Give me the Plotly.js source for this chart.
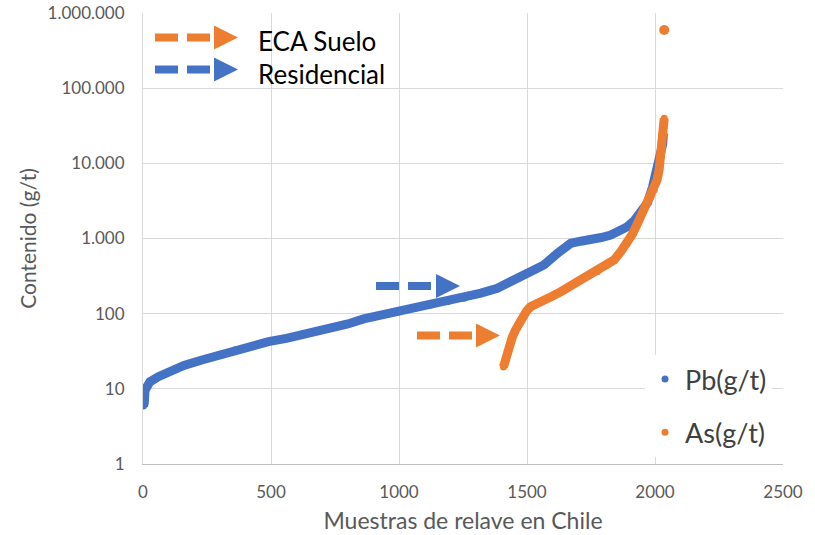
<!DOCTYPE html>
<html>
<head>
<meta charset="utf-8">
<script src="https://cdn.plot.ly/plotly-3.0.1.min.js"></script>
<style>html,body{margin:0;padding:0;background:#fff;}#chart{width:815px;height:535px;}</style>
</head>
<body>
<div id="chart"></div>
<script>
// Pb(g/t) sorted sample values
const pbX = [2, 5, 8, 15, 27, 60, 99, 160, 230, 300, 360, 430, 490, 560, 621, 680, 735, 800, 862, 930, 1000, 1060, 1123, 1190, 1253, 1320, 1384, 1436, 1501, 1566, 1619, 1671, 1710, 1749, 1790, 1827, 1860, 1892, 1920, 1944, 1971, 1990, 2005, 2015, 2023, 2030, 2033];
const pbY = [5.9, 6.5, 9.6, 11, 12.4, 14.5, 16.9, 20.5, 24.2, 28.5, 32.9, 37.5, 42.4, 47, 52, 58, 65, 73, 85, 95, 106, 117, 130, 145, 160, 188, 218, 266, 345, 444, 635, 863, 920, 955, 1030, 1112, 1250, 1436, 1750, 2164, 3000, 4800, 7500, 10000, 12100, 18000, 25000];
// As(g/t) sorted sample values
const asX = [1408, 1412, 1420, 1429, 1442, 1455, 1468, 1482, 1498, 1514, 1540, 1566, 1600, 1632, 1665, 1697, 1735, 1775, 1808, 1840, 1868, 1892, 1912, 1932, 1952, 1971, 1985, 1997, 2008, 2016, 2023, 2029, 2033, 2036];
const asY = [19.5, 22, 28, 36.4, 48, 60.6, 75, 91, 108, 124, 140, 152, 172, 196, 230, 266, 310, 362, 430, 518, 680, 863, 1150, 1592, 2200, 2900, 3600, 4420, 6000, 8150, 12000, 18500, 27000, 39700];
// As outlier
const asOutX = [2036];
const asOutY = [594000];

const yTickVals = [1, 10, 100, 1000, 10000, 100000, 1000000];
const yTickText = ['1', '10', '100', '1.000', '10.000', '100.000', '1.000.000'];
const xTickVals = [0, 500, 1000, 1500, 2000, 2500];

const BLUE = '#4472C4', ORANGE = '#ED7D31';
const FONT = 'Lato, "Open Sans", sans-serif';
const W = 815, H = 535, L = 143, R = 32, T = 13, B = 71;
const pw = W - L - R, ph = H - T - B;
const px = v => (v - L) / pw;
const py = v => (H - B - v) / ph;

const traces = [
  {x: pbX, y: pbY, mode: 'lines', line: {color: BLUE, width: 9}, showlegend: false, legendgroup: 'pb', hoverinfo: 'skip'},
  {x: pbX, y: pbY, mode: 'markers', marker: {color: BLUE, size: 7}, name: 'Pb(g/t)', legendgroup: 'pb'},
  {x: asX, y: asY, mode: 'lines', line: {color: ORANGE, width: 9}, showlegend: false, legendgroup: 'as', hoverinfo: 'skip'},
  {x: asX, y: asY, mode: 'markers', marker: {color: ORANGE, size: 7}, name: 'As(g/t)', legendgroup: 'as'},
  {x: asOutX, y: asOutY, mode: 'markers', marker: {color: ORANGE, size: 10}, showlegend: false, legendgroup: 'as'}
];

function arrow(color, x0, x1, yc, tx0, tx1, th) {
  return [
    {type: 'line', xref: 'paper', yref: 'paper', x0: px(x0), x1: px(x1), y0: py(yc), y1: py(yc),
     line: {color: color, width: 8, dash: '23px,9px'}},
    {type: 'path', xref: 'paper', yref: 'paper',
     path: 'M ' + px(tx0) + ' ' + py(yc - th) + ' L ' + px(tx1) + ' ' + py(yc) + ' L ' + px(tx0) + ' ' + py(yc + th) + ' Z',
     fillcolor: color, line: {width: 0}}
  ];
}

const shapes = [].concat(
  arrow(ORANGE, 155, 210, 37.5, 214, 238, 12),
  arrow(BLUE, 155, 210, 69.5, 214, 238, 12),
  arrow(BLUE, 376, 432, 286, 436, 460, 12),
  arrow(ORANGE, 417, 473, 335.5, 476, 500, 12)
);

const layout = {
  width: W, height: H,
  margin: {l: L, r: R, t: T, b: B, pad: 0},
  paper_bgcolor: '#fff', plot_bgcolor: '#fff',
  font: {family: FONT, color: '#595959'},
  showlegend: true,
  legend: {x: px(645), y: py(355), xanchor: 'left', yanchor: 'top', bgcolor: '#fff',
           font: {size: 27, color: '#404040', family: FONT}, traceorder: 'grouped', tracegroupgap: 15},
  xaxis: {range: [0, 2500], tickvals: xTickVals, ticks: '', showgrid: true, gridcolor: '#d9d9d9', gridwidth: 1,
          showline: true, linecolor: '#bfbfbf', linewidth: 1, zeroline: false,
          tickfont: {size: 17, color: '#595959', family: FONT}, ticklabelstandoff: 13,
          title: {text: 'Muestras de relave en Chile', font: {size: 23, color: '#595959', family: FONT}, standoff: 11}},
  yaxis: {type: 'log', range: [0, 6], tickvals: yTickVals, ticktext: yTickText, ticks: '', showgrid: true,
          gridcolor: '#d9d9d9', gridwidth: 1, showline: true, linecolor: '#d9d9d9', linewidth: 1, zeroline: false,
          tickfont: {size: 17, color: '#595959', family: FONT}, ticklabelstandoff: 14,
          title: {text: 'Contenido (g/t)', font: {size: 21, color: '#595959', family: FONT}, standoff: 5}},
  shapes: shapes,
  annotations: [
    {xref: 'paper', yref: 'paper', x: px(256), y: py(41), xanchor: 'left', yanchor: 'middle', showarrow: false,
     text: 'ECA Suelo', font: {size: 26, color: '#000', family: FONT}},
    {xref: 'paper', yref: 'paper', x: px(256), y: py(74), xanchor: 'left', yanchor: 'middle', showarrow: false,
     text: 'Residencial', font: {size: 26, color: '#000', family: FONT}}
  ]
};

Plotly.newPlot('chart', traces, layout, {displayModeBar: false, staticPlot: true});
</script>
</body>
</html>
